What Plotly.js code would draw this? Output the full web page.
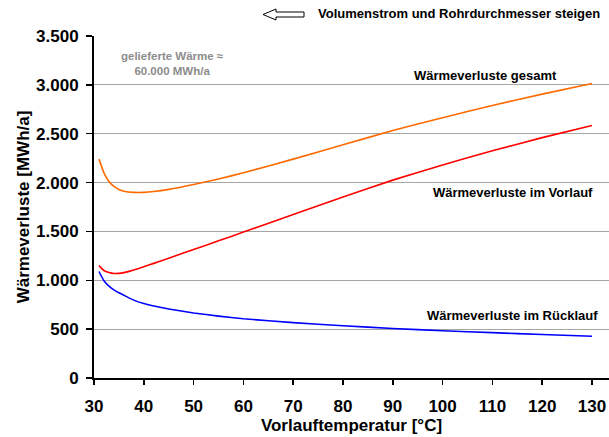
<!DOCTYPE html>
<html>
<head>
<meta charset="utf-8">
<script src="https://cdn.plot.ly/plotly-3.0.1.min.js"></script>
<style>html,body{margin:0;padding:0;background:#fff}#chart{width:609px;height:437px}</style>
</head>
<body>
<div id="chart"></div>
<script>
// Vorlauftemperatur [°C]
const temps = [31, 32, 33, 34, 35, 36, 38, 40, 42, 45, 50, 55, 60, 70, 80, 90, 100, 110, 120, 130];
// Wärmeverluste gesamt [MWh/a]
const gesamt = [2240, 2100, 2010, 1960, 1930, 1912, 1900, 1900, 1908, 1930, 1980, 2037, 2100, 2240, 2387, 2532, 2664, 2789, 2905, 3013];
// Wärmeverluste im Vorlauf [MWh/a]
const vorlauf = [1150, 1100, 1080, 1070, 1071, 1078, 1105, 1138, 1173, 1226, 1315, 1404, 1493, 1673, 1852, 2025, 2180, 2325, 2460, 2585];
// Wärmeverluste im Rücklauf [MWh/a]
const ruecklauf = [1090, 995, 940, 902, 872, 847, 797, 762, 736, 707, 666, 633, 606, 567, 535, 507, 484, 464, 445, 428];

const seriesNames = ["Wärmeverluste gesamt", "Wärmeverluste im Vorlauf", "Wärmeverluste im Rücklauf"];
const xTickVals = [30, 40, 50, 60, 70, 80, 90, 100, 110, 120, 130];
const yTickVals = [0, 500, 1000, 1500, 2000, 2500, 3000, 3500];

const W = 609, H = 437;
const M = {l: 94, r: 0, t: 36, b: 59};
const px = x => (x - M.l) / (W - M.l - M.r);
const py = y => (H - M.b - y) / (H - M.t - M.b);

const FONT = "Liberation Sans, Arial, sans-serif";

const traces = [
  {x: temps, y: gesamt, name: seriesNames[0], mode: "lines", line: {color: "#ff6a00", width: 1.6, shape: "spline", smoothing: 0.5}},
  {x: temps, y: vorlauf, name: seriesNames[1], mode: "lines", line: {color: "#ff0000", width: 1.6, shape: "spline", smoothing: 0.5}},
  {x: temps, y: ruecklauf, name: seriesNames[2], mode: "lines", line: {color: "#0000ff", width: 1.6, shape: "spline", smoothing: 0.5}}
];

const tip = [263, 14.5], hx = 276, ex = 304;
const arrowPath = "M " + px(tip[0]) + "," + py(tip[1]) +
  " L " + px(hx) + "," + py(9) +
  " L " + px(hx) + "," + py(12) +
  " L " + px(ex) + "," + py(12) +
  " L " + px(ex) + "," + py(17) +
  " L " + px(hx) + "," + py(17) +
  " L " + px(hx) + "," + py(20) + " Z";

const layout = {
  width: W, height: H,
  margin: M,
  paper_bgcolor: "#ffffff",
  plot_bgcolor: "#ffffff",
  showlegend: false,
  separators: ",.",
  font: {family: FONT, color: "#000", size: 17, weight: "bold"},
  xaxis: {
    range: [30, 30 + (W - M.l - M.r) / 4.98],
    tickvals: xTickVals,
    ticks: "outside", ticklen: 5, tickwidth: 1.5, tickcolor: "#000",
    ticklabelstandoff: 7,
    showline: true, linecolor: "#000", linewidth: 2,
    showgrid: false, zeroline: false,
    tickfont: {family: FONT, size: 17, weight: "bold", color: "#000"},
    title: {text: "Vorlauftemperatur [°C]", font: {family: FONT, size: 17, weight: "bold", color: "#000"}, standoff: 4}
  },
  yaxis: {
    range: [0, 3500],
    tickvals: yTickVals,
    separatethousands: true,
    tickformat: ",d",
    ticks: "outside", ticklen: 6, tickwidth: 1.5, tickcolor: "#000",
    ticklabelstandoff: 4,
    showline: true, linecolor: "#000", linewidth: 2,
    showgrid: true, gridcolor: "#a6a6a6", gridwidth: 1,
    zeroline: false,
    tickfont: {family: FONT, size: 17, weight: "bold", color: "#000"},
    title: {text: "Wärmeverluste [MWh/a]", font: {family: FONT, size: 17, weight: "bold", color: "#000"}, standoff: 2}
  },
  shapes: [
    {type: "path", xref: "paper", yref: "paper", path: arrowPath, line: {color: "#000", width: 1}, fillcolor: "#fff"}
  ],
  annotations: [
    {xref: "paper", yref: "paper", x: px(316), y: py(14), xanchor: "left", yanchor: "middle", showarrow: false,
     text: "Volumenstrom und Rohrdurchmesser steigen", font: {family: FONT, size: 13, weight: "bold", color: "#000"}},
    {xref: "paper", yref: "paper", x: px(485), y: py(75), xanchor: "center", yanchor: "middle", showarrow: false,
     text: seriesNames[0], font: {family: FONT, size: 13, weight: "bold", color: "#000"}},
    {xref: "paper", yref: "paper", x: px(513), y: py(193), xanchor: "center", yanchor: "middle", showarrow: false,
     text: seriesNames[1], font: {family: FONT, size: 13, weight: "bold", color: "#000"}},
    {xref: "paper", yref: "paper", x: px(512), y: py(315), xanchor: "center", yanchor: "middle", showarrow: false,
     text: seriesNames[2], font: {family: FONT, size: 13, weight: "bold", color: "#000"}},
    {xref: "paper", yref: "paper", x: px(172), y: py(63), xanchor: "center", yanchor: "middle", showarrow: false,
     text: "gelieferte Wärme ≈<br>60.000 MWh/a", align: "center",
     font: {family: FONT, size: 11.5, weight: "bold", color: "#8c8c8c"}}
  ]
};

Plotly.newPlot("chart", traces, layout, {displayModeBar: false, staticPlot: true});
</script>
</body>
</html>
